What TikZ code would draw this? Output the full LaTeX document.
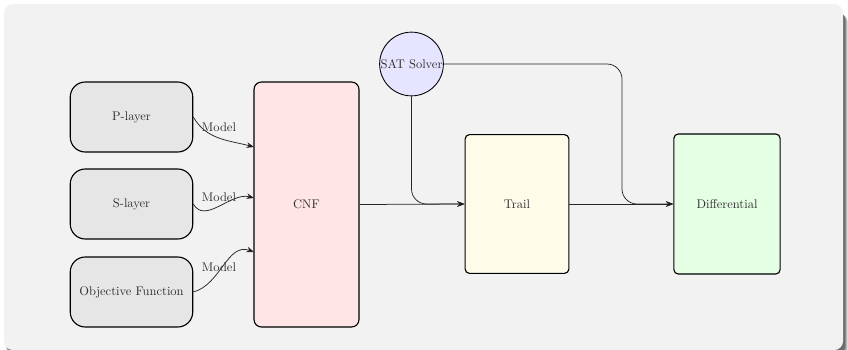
\documentclass[tikz,border=0pt]{standalone}
\usetikzlibrary{arrows.meta}
\definecolor{panel}{HTML}{F2F2F2}
\definecolor{layerfill}{HTML}{E6E6E6}
\definecolor{cnffill}{HTML}{FFE5E5}
\definecolor{trailfill}{HTML}{FFFBE9}
\definecolor{difffill}{HTML}{E5FFE5}
\definecolor{satfill}{HTML}{E5E5FF}
\definecolor{ink}{HTML}{303030}
\tikzset{
  boxbase/.style={draw=black, line width=0.9pt, text=ink, align=center, inner sep=2pt},
  layer/.style={boxbase, fill=layerfill, rounded corners=12pt, minimum width=98pt, minimum height=56pt},
  cnfbox/.style={boxbase, fill=cnffill, rounded corners=6pt, minimum width=84pt, minimum height=196pt},
  trailbox/.style={boxbase, fill=trailfill, rounded corners=3.5pt, minimum width=83pt, minimum height=111pt},
  diffbox/.style={boxbase, fill=difffill, rounded corners=3.5pt, minimum width=85pt, minimum height=112pt},
  solver/.style={circle, draw=black, line width=0.7pt, fill=satfill, text=ink, inner sep=0pt, minimum size=51pt},
  link/.style={draw=black!85, line width=0.6pt, -{Stealth[length=6pt,width=4.5pt,fill=black]}},
  lbl/.style={text=ink, inner sep=1pt},
  shadowlayer/.style={fill=black, rounded corners=7pt}
}
\begin{document}
\begin{tikzpicture}[x=0.8pt,y=-0.8pt]
  \useasboundingbox (0,0) rectangle (848,349);
  % soft drop shadow, built from stacked translucent layers
  \fill[shadowlayer, opacity=0.12] (9,14) rectangle (848,358);
  \fill[shadowlayer, opacity=0.18] (8,13) rectangle (847,357);
  \fill[shadowlayer, opacity=0.22] (7,12) rectangle (846,356);
  \fill[shadowlayer, opacity=0.25] (6,11) rectangle (845,355);
  % panel
  \fill[panel, rounded corners=7pt] (4,4) rectangle (843,350);

  % model sources
  \node[layer] (p) at (131.5,117) {P-layer};
  \node[layer] (s) at (131.5,204) {S-layer};
  \node[layer] (o) at (131.5,292) {Objective Function};

  % encoding and solving stages
  \node[cnfbox] (cnf) at (306.5,204.5) {CNF};
  \node[trailbox] (trail) at (517,204) {Trail};
  \node[diffbox] (diff) at (727,204) {Differential};
  \node[solver] (sat) at (411.5,64) {SAT Solver};

  % entry points on the CNF block
  \coordinate (in1) at (254,147);
  \coordinate (in2) at (254,198);
  \coordinate (in3) at (254,252);
  \coordinate (bend) at (622,140);

  \draw[link] (p.east) to[out=-60,in=165] (in1);
  \draw[link] (s.east) to[out=-60,in=165] (in2);
  \draw[link] (o.east) to[out=15,in=160] (in3);

  \node[lbl] (m1) at (219,127) {Model};
  \node[lbl] (m2) at (219,197) {Model};
  \node[lbl] (m3) at (219,267) {Model};

  \draw[link] (cnf.east) -- (trail.west);
  \draw[link] (trail.east) -- (diff.west);
  \draw[link, rounded corners=12pt] (sat.south) |- (trail.west);
  \draw[link, rounded corners=12pt] (sat.east) -| (bend) |- (diff.west);
\end{tikzpicture}
\end{document}
